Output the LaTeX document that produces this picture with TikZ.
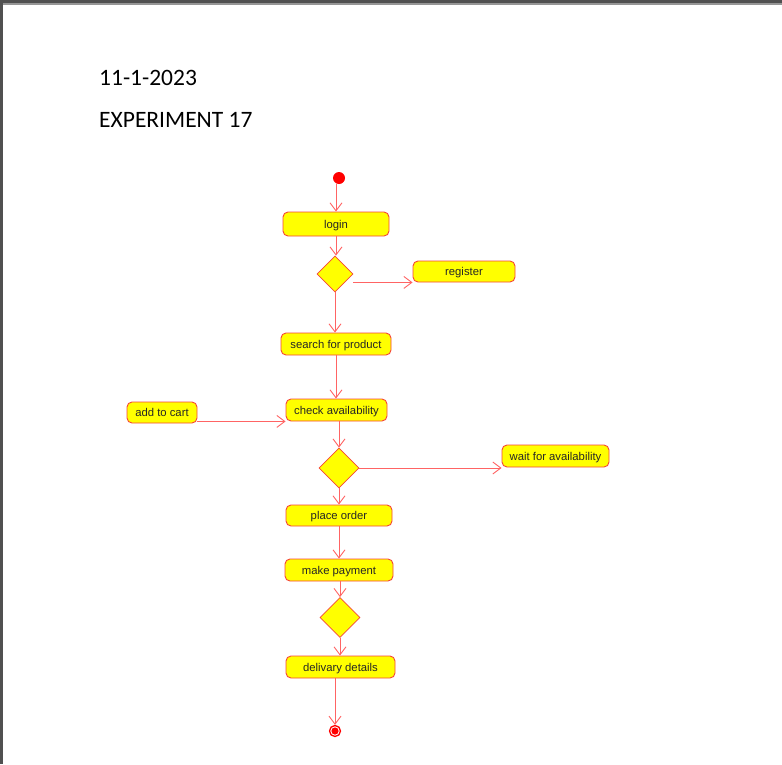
\documentclass[tikz,border=0pt]{standalone}
\usepackage{fontspec}
\setmainfont{Liberation Sans}
\newfontfamily\titlefont{Carlito}
\usetikzlibrary{shapes.geometric,arrows.meta}
\definecolor{boxline}{RGB}{245,70,55}
\definecolor{conn}{RGB}{255,100,100}
\definecolor{umlyellow}{RGB}{255,255,0}
\definecolor{pageedge}{RGB}{80,80,80}
\tikzset{
  act/.style={draw=boxline, fill=umlyellow, rounded corners=5pt, line width=0.9pt,
    inner sep=0pt, text height=10.6pt, text depth=2pt,
    font=\fontsize{11.3}{13}\selectfont, text=black!85},
  dec/.style={draw=boxline, fill=umlyellow, diamond, aspect=1, inner sep=0pt, line width=0.8pt},
  arr/.style={draw=conn, line width=0.9pt, -{Straight Barb[length=8pt,width=12pt]}},
  ttl/.style={anchor=base west, inner sep=0pt, font=\titlefont\fontsize{23.5}{28}\selectfont}
}
\begin{document}
\begin{tikzpicture}[x=1pt,y=-1pt]
\useasboundingbox (0,0) rectangle (782,764);
\fill[white] (0,0) rectangle (782,764);
\fill[pageedge] (0,0) rectangle (782,3);
\fill[pageedge!60] (0,3) rectangle (782,5);
\fill[pageedge] (0,0) rectangle (3,764);

\node[ttl] (date) at (99,85) {11-1-2023};
\node[ttl] (exp) at (99,127.5) {EXPERIMENT 17};

\node[circle, fill=red, minimum size=12pt, inner sep=0pt] (start) at (339,178) {};
\node[act, minimum width=106pt, minimum height=24pt] (login) at (336,224) {login};
\node[dec, minimum width=36pt, minimum height=36pt] (d1) at (335,274) {};
\node[act, minimum width=102pt, minimum height=21pt] (register) at (464,271.5) {register};
\node[act, minimum width=110pt, minimum height=22pt] (search) at (336,344) {search for product};
\node[act, minimum width=101pt, minimum height=22pt] (check) at (336.5,410) {check availability};
\node[act, minimum width=70pt, minimum height=21pt] (cart) at (162,412.5) {add to cart};
\node[dec, minimum width=40pt, minimum height=40pt] (d2) at (339,468) {};
\node[act, minimum width=107pt, minimum height=22pt] (wait) at (555.5,456) {wait for availability};
\node[act, minimum width=106pt, minimum height=21pt] (place) at (339,515.5) {place order};
\node[act, minimum width=108pt, minimum height=22pt] (pay) at (339,570) {make payment};
\node[dec, minimum width=40pt, minimum height=40pt] (d3) at (340,617.5) {};
\node[act, minimum width=109pt, minimum height=22pt] (deliv) at (340.5,667) {delivary details};
\node[circle, draw=red, line width=1.3pt, fill=white, minimum size=11pt, inner sep=0pt] (end) at (335,731) {};
\fill[red] (end.center) circle[radius=3.6pt];

\draw[arr] (login.north |- start.south) -- (login.north);
\draw[arr] (login.south) -- (login.south |- d1.north);
\draw[arr] (d1.east |- register.south west) -- (register.south west);
\draw[arr] (d1.south) -- (d1.south |- search.north);
\draw[arr] (search.south) -- (check.north -| search.south);
\draw[arr] (cart.east |- check.south west) -- (check.south west);
\draw[arr] (check.south -| d2.north) -- (d2.north);
\draw[arr] (d2.east) -- (d2.east -| wait.west);
\draw[arr] (d2.south) -- (place.north -| d2.south);
\draw[arr] (place.south) -- (pay.north -| place.south);
\draw[arr] (pay.south -| d3.north) -- (d3.north);
\draw[arr] (d3.south) -- (deliv.north -| d3.south);
\draw[arr] (end.north |- deliv.south) -- (end.north);
\end{tikzpicture}
\end{document}
